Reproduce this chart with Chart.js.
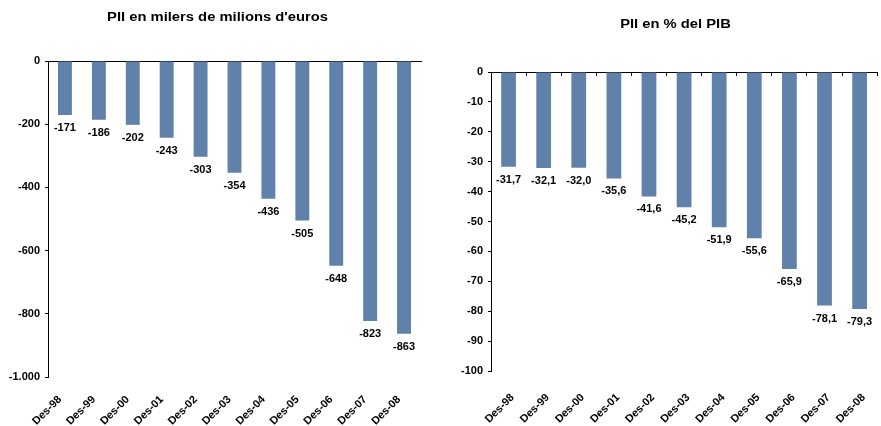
<!DOCTYPE html>
<html>
<head>
<meta charset="utf-8">
<script src="https://cdn.jsdelivr.net/npm/chart.js@4/dist/chart.umd.min.js"></script>
<style>
  html, body { margin: 0; padding: 0; background: #fff; }
  #esquerra { position: absolute; left: 0; top: 0; width: 440px; height: 426px; }
  #dreta { position: absolute; left: 440px; top: 0; width: 441px; height: 426px; }
</style>
</head>
<body>
<div id="esquerra"><canvas id="plot1"></canvas></div>
<div id="dreta"><canvas id="plot2"></canvas></div>
<script>
// Dades
const anys = ['Des-98', 'Des-99', 'Des-00', 'Des-01', 'Des-02', 'Des-03', 'Des-04', 'Des-05', 'Des-06', 'Des-07', 'Des-08'];
const piiMilers = [-171, -186, -202, -243, -303, -354, -436, -505, -648, -823, -863];
const piiPercent = [-31.7, -32.1, -32.0, -35.6, -41.6, -45.2, -51.9, -55.6, -65.9, -78.1, -79.3];
const titol1 = "PII en milers de milions d'euros";
const titol2 = 'PII en % del PIB';

const FONT = "'Liberation Sans', Arial, sans-serif";
const BLAU = '#6082AA';

// Títol dibuixat a mà (l'original és una mica eixamplat)
const titolPlugin = {
  id: 'titol',
  afterDraw(chart, args, opts) {
    const ctx = chart.ctx;
    ctx.save();
    ctx.font = 'bold 12px ' + FONT;
    ctx.fillStyle = '#000';
    ctx.textAlign = 'center';
    ctx.textBaseline = 'middle';
    ctx.translate(opts.x, opts.y);
    ctx.scale(1.23, 1);
    ctx.fillText(opts.text, 0, 0);
    ctx.restore();
  }
};

// Etiquetes de valor sota cada barra
const etiquetesPlugin = {
  id: 'etiquetes',
  afterDatasetsDraw(chart, args, opts) {
    const ctx = chart.ctx;
    const meta = chart.getDatasetMeta(0);
    const valors = chart.data.datasets[0].data;
    ctx.save();
    ctx.font = 'bold 11px ' + FONT;
    ctx.fillStyle = '#000';
    ctx.textAlign = 'center';
    ctx.textBaseline = 'middle';
    meta.data.forEach((bar, i) => {
      ctx.fillText(opts.format(valors[i]), bar.x, bar.y + 13);
    });
    ctx.restore();
  }
};

let crearGrafic = (canvasId, valors, titol, cfg) => {
  let config = {
    type: 'bar',
    data: {
      labels: anys,
      datasets: [{
        data: valors,
        backgroundColor: BLAU,
        borderWidth: 0,
        barPercentage: cfg.barPct,
        categoryPercentage: 1
      }]
    },
    plugins: [titolPlugin, etiquetesPlugin],
    options: {
      responsive: true,
      maintainAspectRatio: false,
      animation: false,
      events: [],
      layout: { padding: { top: cfg.top, right: cfg.right, left: 0, bottom: 0 } },
      plugins: {
        legend: { display: false },
        tooltip: { enabled: false },
        titol: { text: titol, x: cfg.titolX, y: cfg.titolY },
        etiquetes: { format: cfg.format }
      },
      scales: {
        x: {
          type: 'category',
          position: 'bottom',
          offset: true,
          border: { display: false },
          grid: { display: false },
          ticks: {
            autoSkip: false,
            minRotation: 45,
            maxRotation: 45,
            padding: cfg.xPad,
            labelOffset: cfg.xDesp,
            color: '#000',
            font: { family: FONT, size: 11, weight: 'bold' }
          },
          afterFit: (s) => { s.height = cfg.xAlt; }
        },
        x0: {
          type: 'category',
          position: { y: 0 },
          offset: true,
          border: { display: true, color: '#000', width: 1 },
          grid: { offset: true, drawOnChartArea: false, drawTicks: cfg.ticksX, tickLength: 3, color: '#000' },
          ticks: { display: false }
        },
        y: {
          min: cfg.min,
          max: 0,
          border: { display: true, color: '#000', width: 1 },
          grid: { drawOnChartArea: false, drawTicks: true, tickLength: 3, color: '#000' },
          ticks: {
            stepSize: cfg.step,
            padding: 5,
            color: '#000',
            font: { family: FONT, size: 11, weight: 'bold' },
            callback: cfg.yFormat
          },
          afterFit: (s) => { s.width = cfg.yAmple; }
        }
      }
    }
  };
  return new Chart(document.getElementById(canvasId), config);
};

let milers = (v) => {
  let s = String(Math.abs(v));
  if (s.length > 3) s = s.slice(0, s.length - 3) + '.' + s.slice(-3);
  return (v < 0 ? '-' : '') + s;
};

crearGrafic('plot1', piiMilers, titol1, {
  barPct: 0.41, top: 61, right: 19, xAlt: 49, yAmple: 48,
  min: -1000, step: 200, ticksX: false, xPad: 8, xDesp: -5,
  titolX: 217.5, titolY: 18,
  yFormat: (v) => milers(v),
  format: (v) => String(v)
});

crearGrafic('plot2', piiPercent, titol2, {
  barPct: 0.42, top: 72, right: 1, xAlt: 55, yAmple: 51,
  min: -100, step: 10, ticksX: true, xPad: 12, xDesp: 4,
  titolX: 235.5, titolY: 25,
  yFormat: (v) => String(v),
  format: (v) => v.toFixed(1).replace('.', ',')
});
</script>
</body>
</html>
